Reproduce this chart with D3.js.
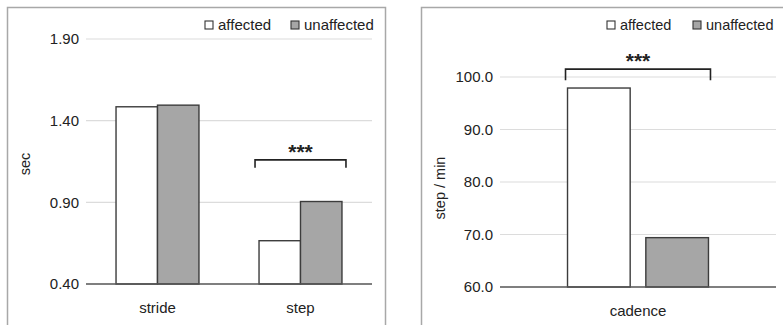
<!DOCTYPE html>
<html>
<head>
<meta charset="utf-8">
<script src="https://cdn.jsdelivr.net/npm/d3@7"></script>
<style>
	body { margin: 0; background: #fff; }
	svg { display: block; font-family: "Liberation Sans", Arial, sans-serif; }
	text { fill: #222; }
</style>
</head>
<body>
<svg id="chart" width="783" height="325"></svg>
<script>
// series names (legend)
const groups = ["affected", "unaffected"];
const groupFill = ["#ffffff", "#a6a6a6"];

// left panel: time (sec)
const timeCategories = ["stride", "step"];
const timeAffected = [1.485, 0.665];
const timeUnaffected = [1.495, 0.905];
const timeTicks = [0.40, 0.90, 1.40, 1.90];

// right panel: cadence (step / min)
const cadenceCategories = ["cadence"];
const cadenceAffected = [97.9];
const cadenceUnaffected = [69.4];
const cadenceTicks = [60, 70, 80, 90, 100];

const svg = d3.select("#chart");

function panel(opts) {
	const g = svg.append("g");

	// frame, cut off at the bottom like the original
	g.append("rect")
		.attr("x", opts.frame[0]).attr("y", opts.frame[1])
		.attr("width", opts.frame[2]).attr("height", 400)
		.attr("fill", "none")
		.attr("stroke", "#a8a8a8")
		.attr("stroke-width", 1.5);

	const y = d3.scaleLinear().domain(opts.domain).range([opts.bottom, opts.top]);
	const x = d3.scaleBand()
		.domain(opts.categories)
		.range([opts.left, opts.right])
		.paddingInner(opts.padInner)
		.paddingOuter(opts.padOuter);
	const xs = d3.scaleBand()
		.domain(groups)
		.range([0, x.bandwidth()])
		.paddingInner(opts.subPad);

	// gridlines + tick labels
	g.append("g").selectAll("line")
		.data(opts.ticks.slice(1))
		.join("line")
		.attr("x1", opts.left).attr("x2", opts.right)
		.attr("y1", d => y(d)).attr("y2", d => y(d))
		.attr("stroke", "#dcdcdc").attr("stroke-width", 1.2);

	g.append("g").selectAll("text")
		.data(opts.ticks)
		.join("text")
		.attr("x", opts.left - 7)
		.attr("y", d => y(d))
		.attr("dy", "0.35em")
		.attr("text-anchor", "end")
		.attr("font-size", 15)
		.text(d => d3.format(opts.fmt)(d));

	// bars
	const rows = opts.categories.map((c, i) => ({cat: c, vals: [opts.a[i], opts.u[i]]}));
	const cat = g.append("g").selectAll("g")
		.data(rows)
		.join("g")
		.attr("transform", d => `translate(${x(d.cat)},0)`);

	cat.selectAll("rect")
		.data(d => d.vals.map((v, j) => ({key: groups[j], v: v, j: j})))
		.join("rect")
		.attr("x", d => xs(d.key))
		.attr("y", d => y(d.v))
		.attr("width", xs.bandwidth())
		.attr("height", d => y(opts.domain[0]) - y(d.v))
		.attr("fill", d => groupFill[d.j])
		.attr("stroke", "#3c3c3c")
		.attr("stroke-width", 1.4);

	// baseline
	g.append("line")
		.attr("x1", opts.left).attr("x2", opts.right)
		.attr("y1", y(opts.domain[0])).attr("y2", y(opts.domain[0]))
		.attr("stroke", "#555").attr("stroke-width", 1.5);

	// category labels
	g.append("g").selectAll("text")
		.data(opts.categories)
		.join("text")
		.attr("x", d => x(d) + x.bandwidth() / 2)
		.attr("y", y(opts.domain[0]) + 29)
		.attr("text-anchor", "middle")
		.attr("font-size", 15)
		.text(d => d);

	// axis title
	g.append("text")
		.attr("transform", `translate(${opts.titleX},${opts.titleY}) rotate(-90)`)
		.attr("text-anchor", "middle")
		.attr("dy", "0.35em")
		.attr("font-size", 14.5)
		.text(opts.title);

	// significance bracket
	const b = opts.bracket;
	const bx0 = x(b.cat) - b.pad, bx1 = x(b.cat) + x.bandwidth() + b.pad, by = y(b.level);
	g.append("path")
		.attr("d", `M${bx0},${by + b.tick}V${by}H${bx1}V${by + b.tick}`)
		.attr("fill", "none")
		.attr("stroke", "#222")
		.attr("stroke-width", 1.6);
	g.append("text")
		.attr("x", (bx0 + bx1) / 2)
		.attr("y", by - 1)
		.attr("text-anchor", "middle")
		.attr("font-size", 21)
		.attr("font-weight", "bold")
		.text("***");

	// legend
	const lg = g.append("g").attr("transform", `translate(0,25)`);
	groups.forEach((name, j) => {
		lg.append("rect")
			.attr("x", opts.legendX[j]).attr("y", -4)
			.attr("width", 8).attr("height", 8)
			.attr("fill", groupFill[j])
			.attr("stroke", "#333").attr("stroke-width", 1.1);
		lg.append("text")
			.attr("x", opts.legendX[j] + 13)
			.attr("dy", "0.35em")
			.attr("font-size", opts.legendSize)
			.text(name);
	});
}

panel({
	frame: [7.5, 7.5, 378],
	categories: timeCategories, a: timeAffected, u: timeUnaffected,
	domain: [0.40, 1.90], ticks: timeTicks, fmt: ".2f",
	top: 39, bottom: 284, left: 86, right: 372,
	padInner: 0.42, padOuter: 0.21, subPad: 0,
	title: "sec", titleX: 25, titleY: 164,
	bracket: {cat: "step", level: 1.16, pad: 4, tick: 8},
	legendX: [205, 291], legendSize: 15
});

panel({
	frame: [421.5, 7.5, 400],
	categories: cadenceCategories, a: cadenceAffected, u: cadenceUnaffected,
	domain: [60, 100], ticks: cadenceTicks, fmt: ".1f",
	top: 77, bottom: 287, left: 500, right: 776,
	padInner: 0, padOuter: 0.479, subPad: 0.2,
	title: "step / min", titleX: 440, titleY: 188,
	bracket: {cat: "cadence", level: 101.5, pad: 2, tick: 11},
	legendX: [607, 693], legendSize: 14.5
});
</script>
</body>
</html>
